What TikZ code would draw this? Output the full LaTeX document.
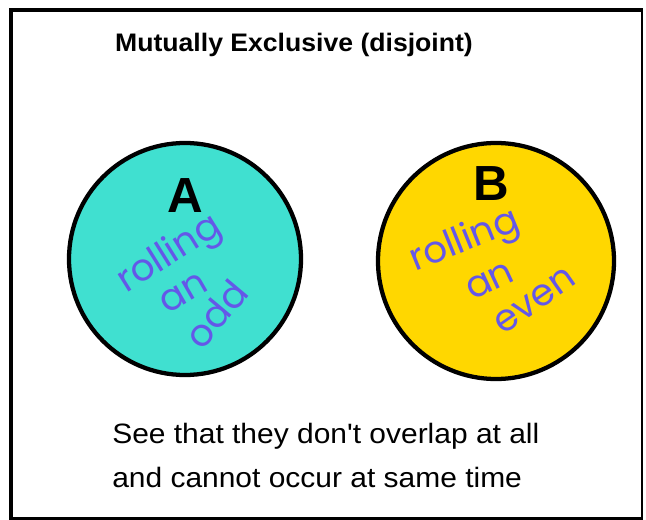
\documentclass[tikz,border=0pt]{standalone}
\usepackage{fontspec}
\setmainfont{Liberation Sans}
\newfontfamily\hand{Poppins}
\definecolor{turq}{RGB}{64,224,208}
\definecolor{goldy}{RGB}{255,215,0}
\definecolor{ink}{RGB}{100,88,232}
\begin{document}
\begin{tikzpicture}[x=0.75pt,y=-0.75pt,
  setcircle/.style={circle,draw=black,line width=3.2pt,inner sep=0pt},
  letter/.style={font=\bfseries\fontsize{37}{40}\selectfont},
  handtxt/.style={text=ink,font=\hand\fontsize{28}{30}\selectfont,inner sep=0pt},
  title/.style={font=\bfseries\fontsize{19}{22}\selectfont},
  body/.style={font=\fontsize{21}{32}\selectfont,align=left,anchor=north west,inner sep=0pt}]
\useasboundingbox (0,0) rectangle (646,520);
% frame
\draw[line width=3pt] (10.5,520) -- (10.5,10.5) -- (643,10.5);
\draw[line width=2pt] (642,10.5) -- (642,518.5) -- (10.5,518.5);
% title
\node[title] (ttl) at (294,45) {\scalebox{1.05}[1]{Mutually Exclusive (disjoint)}};
% circles
\node[setcircle,fill=turq,minimum size=174pt] (cA) at (185,259) {};
\node[setcircle,fill=goldy,minimum size=177pt] (cB) at (496,261) {};
% letters
\node[letter] (lA) at (185,196) {A};
\node[letter] (lB) at (491,184) {B};
% handwriting A
\node[handtxt,rotate=32] (a1) at (170,255) {rolling};
\node[handtxt,rotate=30] (a2) at (184,293) {an};
\node[handtxt,rotate=50] (a3) at (216,314) {odd};
% handwriting B
\node[handtxt,rotate=22] (b1) at (465,242) {rolling};
\node[handtxt,rotate=25] (b2) at (490,281) {an};
\node[handtxt,rotate=35] (b3) at (535,301) {even};
% bottom text
\node[body] (txt) at (112,423) {\scalebox{1.07}[1]{See that they don\textquotesingle t overlap at all}\\[1pt]\scalebox{1.07}[1]{and cannot occur at same time}};
\end{tikzpicture}
\end{document}
